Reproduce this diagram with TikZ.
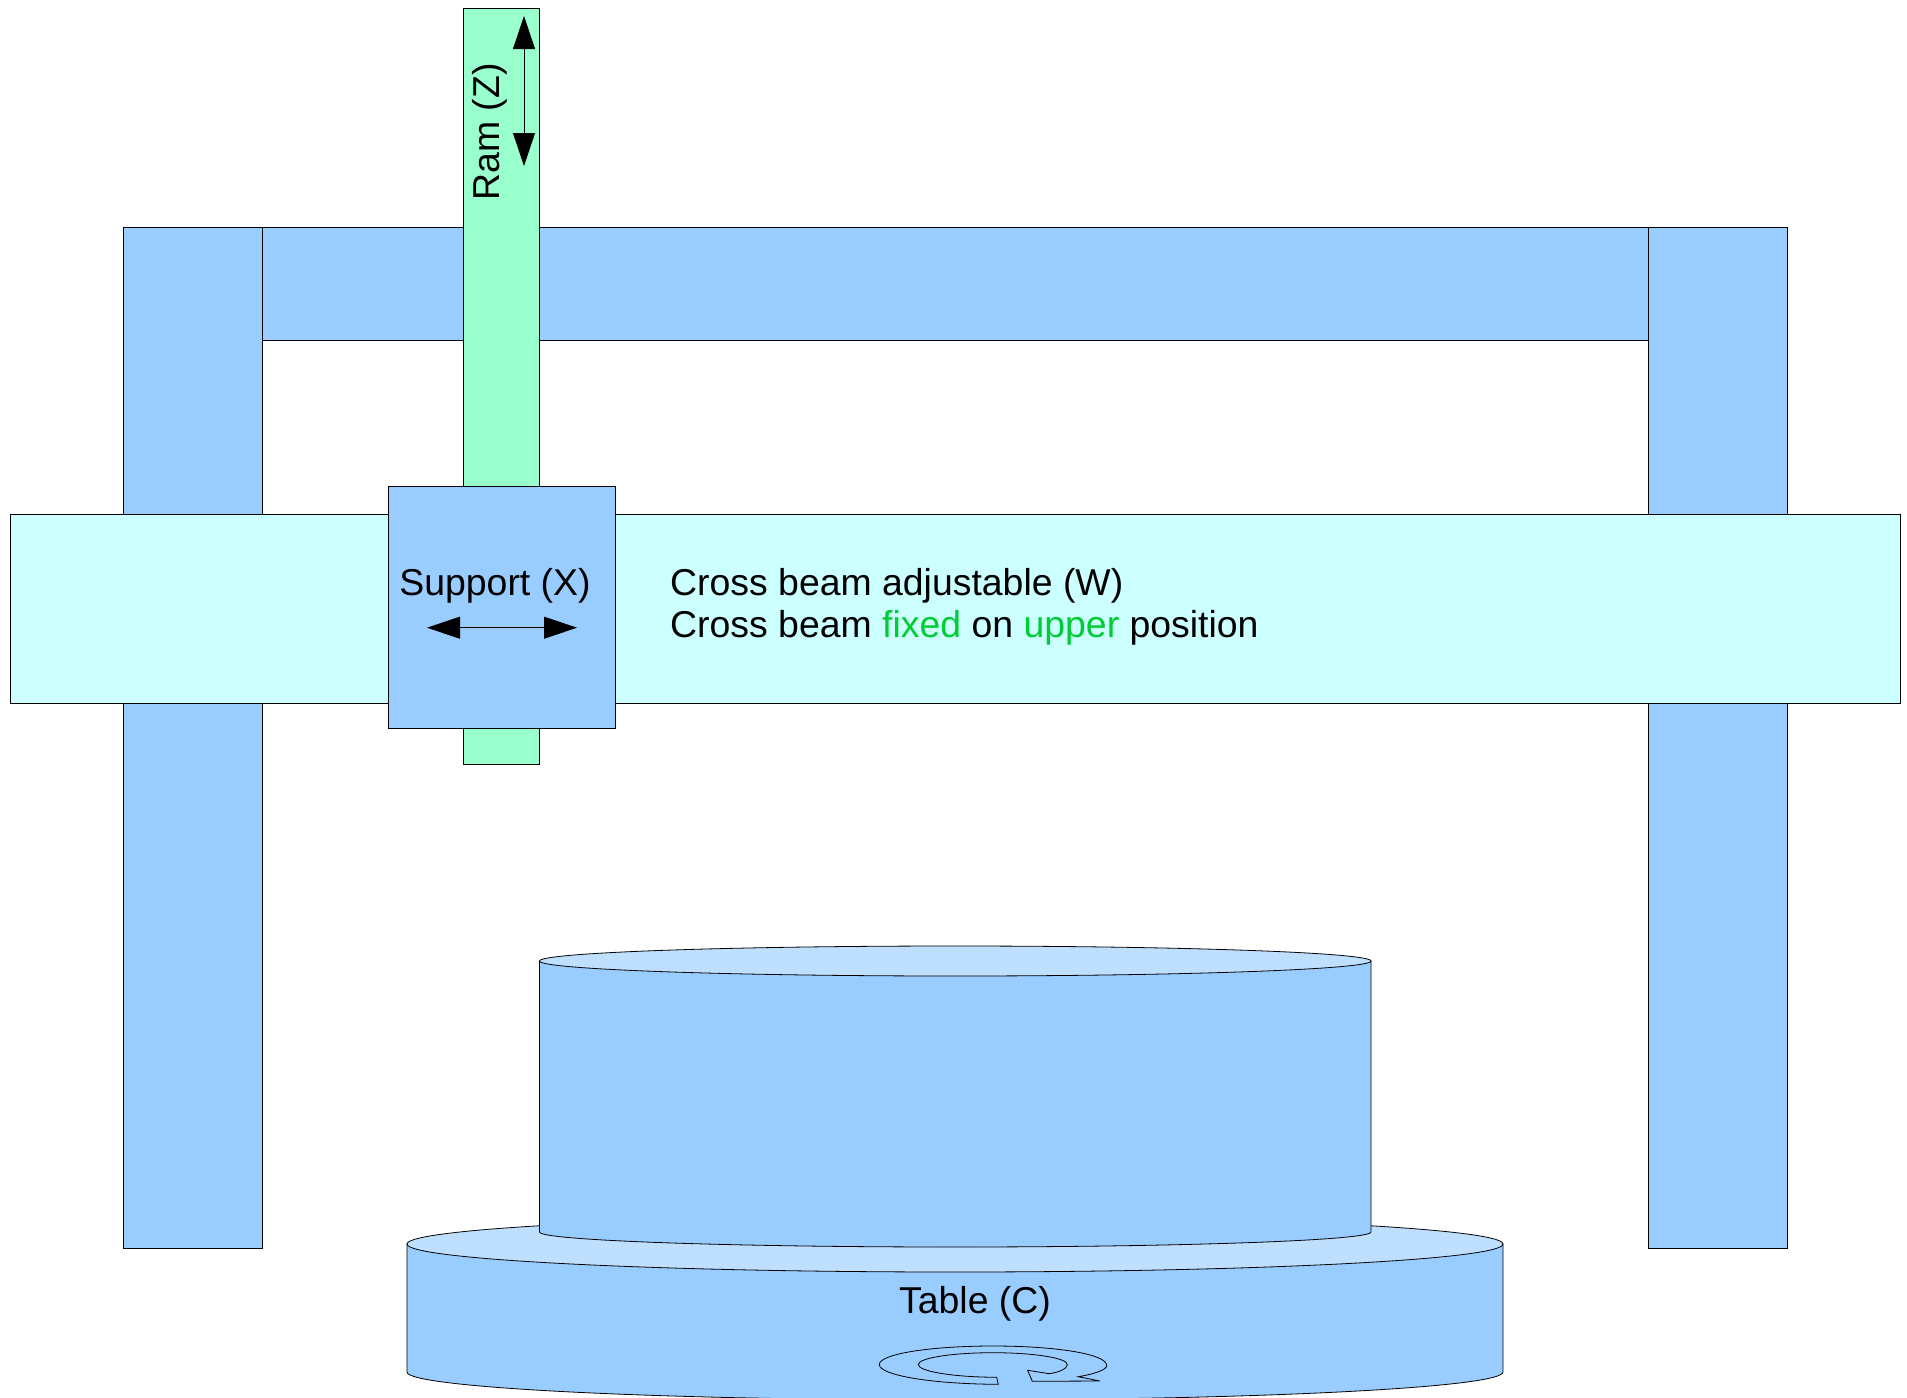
\documentclass[tikz,border=0pt]{standalone}
\usepackage{xcolor}
\usepackage{fontspec}
\setmainfont{Liberation Sans}
\usetikzlibrary{arrows.meta,positioning}
\definecolor{frameblue}{RGB}{153,204,255}
\definecolor{topblue}{RGB}{191,223,255}
\definecolor{beamcyan}{RGB}{204,255,255}
\definecolor{ramgreen}{RGB}{153,255,204}
\definecolor{wordgreen}{RGB}{0,204,51}
\tikzset{
    % Define standard styles
    partbox/.style={
        draw=black, line width=0.8pt, fill=frameblue
    },
    toppart/.style={
        draw=black, line width=0.8pt, fill=topblue
    },
    arrow/.style={
        {Triangle[length=33pt,width=22pt]}-{Triangle[length=33pt,width=22pt]},
        line width=0.8pt, color=black
    },
    label/.style={
        inner sep=0pt, font=\fontsize{37.4}{42.5}\selectfont
    }
}
\begin{document}
\begin{tikzpicture}[x=1pt, y=-1pt]

\useasboundingbox (0,0) rectangle (1907,1398);

% Frame
\draw[partbox] (123,227) rectangle (262,1248);
\draw[partbox] (1648,227) rectangle (1787,1248);
\draw[partbox] (262,227) rectangle (1648,340.5);

% Ram, cross beam, support
\draw[partbox, fill=ramgreen] (463.5,8) rectangle (539.5,764);
\draw[partbox, fill=beamcyan] (10,514) rectangle (1900,703.5);
\draw[partbox] (388,486) rectangle (615,728);

% Table
\begin{scope}
\clip (0,0) rectangle (1907,1398);
\draw[partbox] (407,1244) -- (407,1372)
    arc[start angle=180, end angle=0, x radius=548, y radius=28] -- (1503,1244) -- cycle;
\end{scope}
\draw[toppart] (955,1244) ellipse [x radius=548, y radius=28];

% Workpiece
\draw[partbox] (539.5,961) -- (539.5,1232)
    arc[start angle=180, end angle=0, x radius=415.75, y radius=15] -- (1371,961) -- cycle;
\draw[toppart] (955.25,961) ellipse [x radius=415.75, y radius=15];

% Rotation mark
\draw[partbox] (879.3,1364.5)
    .. controls (879.3,1354) and (930,1346) .. (993,1346)
    .. controls (1056,1346) and (1106.7,1354) .. (1106.7,1365.5)
    .. controls (1106.7,1370) and (1094,1374) .. (1078.3,1376.7)
    -- (1100,1381) -- (1032.3,1381.3) -- (1027.7,1370.3) -- (1049.3,1373.7)
    .. controls (1060,1372) and (1067.3,1368.5) .. (1067.3,1364.5)
    .. controls (1067.3,1358) and (1034,1352.7) .. (993,1352.7)
    .. controls (952,1352.7) and (918.3,1358) .. (918.3,1364.5)
    .. controls (918.3,1371) and (950,1377) .. (996.7,1377.3)
    -- (998.3,1384.3)
    .. controls (930,1384) and (879.3,1375) .. (879.3,1364.5) -- cycle;

% Labels
\node[label, anchor=base, rotate=90] (ramlabel) at (499.3,132) {Ram (Z)};
\node[label, anchor=base] (supportlabel) at (495,595) {Support (X)};
\node[label, anchor=base west] (beamlabel) at (670,595) {Cross beam adjustable (W)};
\node[label, anchor=base west] (fixedlabel) at (670,637.5)
    {Cross beam \textcolor{wordgreen}{fixed} on \textcolor{wordgreen}{upper} position};
\node[label, anchor=base] (tablelabel) at (975,1313) {Table (C)};

% Motion arrows
\coordinate (ramtop) at (524,16);
\coordinate (rambottom) at (524,166);
\coordinate (supportleft) at (427,627.7);
\coordinate (supportright) at (577,627.7);
\draw[arrow] (ramtop) -- (rambottom);
\draw[arrow] (supportleft) -- (supportright);

\end{tikzpicture}
\end{document}
